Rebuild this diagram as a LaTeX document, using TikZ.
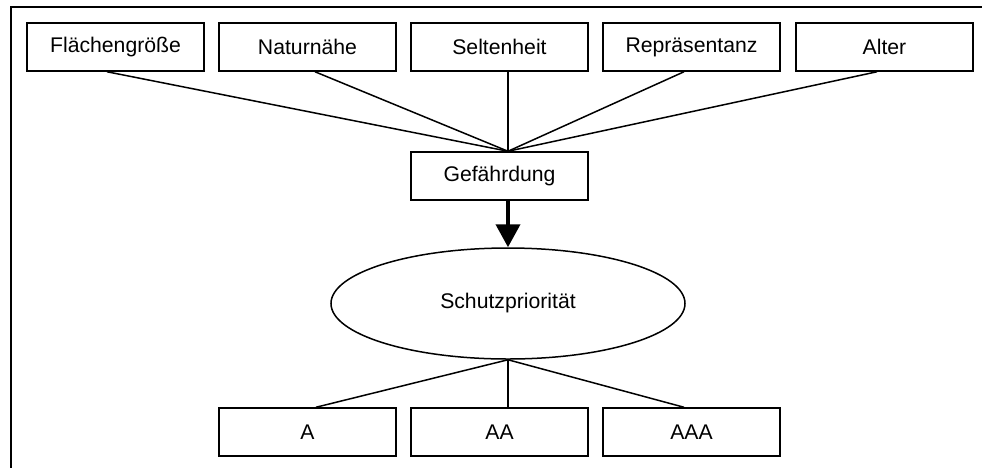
\documentclass[tikz,border=0pt]{standalone}
\usepackage{fontspec}
\setmainfont{Liberation Sans}
\usetikzlibrary{arrows.meta,shapes.geometric}

\begin{document}
\begin{tikzpicture}[x=0.5pt,y=0.5pt,yscale=-1,xscale=1,
  kasten/.style={draw,line width=0.75pt,minimum width=88.5pt,minimum height=24pt,inner sep=0pt,font=\fontsize{10.6}{12.7}\selectfont},
  oval/.style={draw,ellipse,line width=0.75pt,minimum width=177pt,minimum height=55.5pt,inner sep=0pt,font=\fontsize{10.6}{12.7}\selectfont},
  linie/.style={line width=0.75pt}]

\useasboundingbox (0,0) rectangle (982,468);

\draw [linie]  (982,7) -- (11,7) -- (11,468) ;


\node [kasten] (flaeche) at (115.5,47) {Flächengröße};

\node [kasten] (natur) at (307.5,47) {Naturnähe};

\node [kasten] (selten) at (499.5,47) {Seltenheit};

\node [kasten] (repraes) at (691.5,47) {Repräsentanz};

\node [kasten] (alter) at (884.5,47) {Alter};

\node [kasten] (gefahr) at (499.5,176) {Gefährdung};

\node [oval] (schutz) at (508,303.5) {Schutzpriorität};

\node [kasten] (a) at (307.5,432) {A};

\node [kasten] (aa) at (499.5,432) {AA};

\node [kasten] (aaa) at (691.5,432) {AAA};


\draw [linie]  ([xshift=-4.25pt]flaeche.south) -- ([xshift=4.25pt]gefahr.north) ;
\draw [linie]  ([xshift=3.75pt]natur.south) -- ([xshift=4.25pt]gefahr.north) ;
\draw [linie]  ([xshift=4.25pt]selten.south) -- ([xshift=4.25pt]gefahr.north) ;
\draw [linie]  ([xshift=-3.75pt]repraes.south) -- ([xshift=4.25pt]gefahr.north) ;
\draw [linie]  ([xshift=-3.75pt]alter.south) -- ([xshift=4.25pt]gefahr.north) ;

\draw [line width=2pt,-{Triangle[length=11.5pt,width=12pt]}]  ([xshift=4.25pt]gefahr.south) -- (schutz.north) ;

\draw [linie]  (schutz.south) -- ([xshift=4.25pt]a.north) ;
\draw [linie]  (schutz.south) -- ([xshift=4.25pt]aa.north) ;
\draw [linie]  (schutz.south) -- ([xshift=-3.75pt]aaa.north) ;

\end{tikzpicture}
\end{document}
